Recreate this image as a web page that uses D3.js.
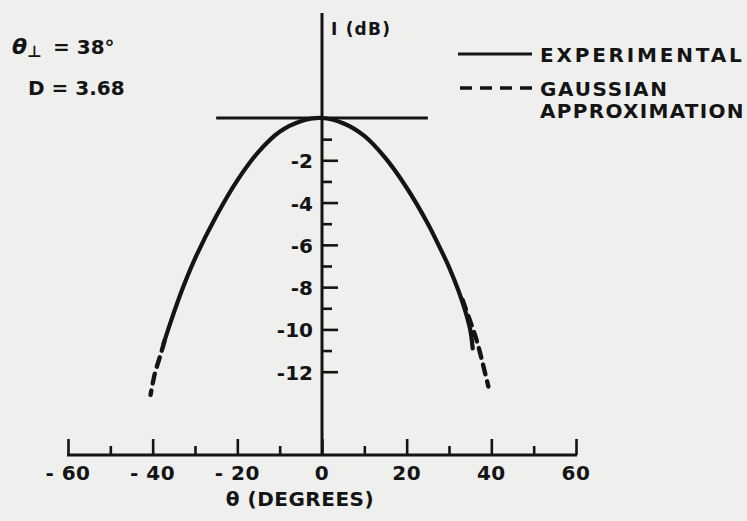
<!DOCTYPE html>
<html>
<head>
<meta charset="utf-8">
<script src="https://cdn.jsdelivr.net/npm/d3@7"></script>
<style>
  html, body { margin: 0; padding: 0; background: #efefed; }
  svg { display: block; }
  text { font-family: "DejaVu Sans", "Liberation Sans", sans-serif; font-weight: bold; fill: #141414; }
</style>
</head>
<body>
<div id="chart"></div>
<script>
// experimental curve (theta in degrees, I in dB)
const expTheta = [-37.4, -35.5, -33, -30, -25, -20, -15, -10, -5, 0, 5, 10, 15, 20, 25, 28, 30, 32.2, 33.8, 35, 35.6];
const expDb    = [-10.66, -9.5, -8.1, -6.65, -4.65, -2.95, -1.6, -0.65, -0.15, 0, -0.25, -0.85, -1.9, -3.3, -5.0, -6.2, -7.05, -8.15, -9.1, -10.0, -10.9];
// gaussian approximation, only the visible tails
const gaussLeftTheta  = [-37.2, -38.3, -39.5, -40.5];
const gaussLeftDb     = [-10.55, -11.3, -12.1, -13.1];
const gaussRightTheta = [33.2, 34.8, 36.2, 37.2, 38.2, 39.3];
const gaussRightDb    = [-8.6, -9.5, -10.3, -11.0, -11.8, -12.7];

const xMajor = [-60, -40, -20, 0, 20, 40, 60];
const xMinor = [-50, -30, -10, 10, 30, 50];
const xTickLabels = ["- 60", "- 40", "- 20", "0", "20", "40", "60"];
const yMajor = [-2, -4, -6, -8, -10, -12];
const yMinor = [-1, -3, -5, -7, -9, -11];
const yTickLabels = ["-2", "-4", "-6", "-8", "-10", "-12"];

const width = 747, height = 521;
const ink = "#141414";

const svg = d3.select("#chart").append("svg")
    .attr("width", width).attr("height", height);

const x = d3.scaleLinear().domain([-60, 60]).range([68, 576]);
const y = d3.scaleLinear().domain([0, -12]).range([118, 371.7]);
const baseY = 455;

// x axis: ticks pointing up from the baseline
const gx = svg.append("g").attr("transform", `translate(0,${baseY})`);
gx.append("g").call(d3.axisTop(x).tickValues(xMajor).tickSize(16).tickFormat(""));
gx.append("g").call(d3.axisTop(x).tickValues(xMinor).tickSize(9).tickFormat(""));
gx.selectAll(".domain").remove();
gx.selectAll(".tick line").attr("stroke", ink).attr("stroke-width", 2.6);
gx.append("line").attr("x1", x(-60) - 1).attr("x2", x(60) + 1)
    .attr("stroke", ink).attr("stroke-width", 2.8);
gx.selectAll(".xlab").data(xMajor).enter().append("text")
    .attr("x", d => x(d)).attr("y", 25)
    .attr("text-anchor", "middle")
    .style("font-size", "20px").style("letter-spacing", "0.5px")
    .text((d, i) => xTickLabels[i]);

svg.append("text")
    .attr("x", 300).attr("y", 506)
    .attr("text-anchor", "middle")
    .style("font-size", "20px").style("letter-spacing", "0.5px")
    .text("θ (DEGREES)");

// y axis
const gy = svg.append("g").attr("transform", `translate(${x(0)},0)`);
gy.append("g").call(d3.axisRight(y).tickValues(yMajor).tickSize(16).tickFormat(""));
gy.append("g").call(d3.axisRight(y).tickValues(yMinor).tickSize(10).tickFormat(""));
gy.selectAll(".domain").remove();
gy.selectAll(".tick line").attr("stroke", ink).attr("stroke-width", 2.6);
gy.append("line").attr("y1", 13).attr("y2", baseY)
    .attr("stroke", ink).attr("stroke-width", 3);
gy.selectAll(".ylab").data(yMajor).enter().append("text")
    .attr("x", -9).attr("y", d => y(d) + 8)
    .attr("text-anchor", "end")
    .style("font-size", "20px")
    .text((d, i) => yTickLabels[i]);

svg.append("text")
    .attr("x", 331).attr("y", 35)
    .style("font-size", "17px").style("letter-spacing", "1.2px")
    .text("I (dB)");

// 0 dB reference line
svg.append("line")
    .attr("x1", x(-25)).attr("x2", x(25))
    .attr("y1", y(0)).attr("y2", y(0))
    .attr("stroke", ink).attr("stroke-width", 2.8);

// curves
const line = d3.line().x(d => x(d[0])).y(d => y(d[1])).curve(d3.curveCatmullRom.alpha(0.5));

svg.append("path").datum(expTheta.map((t, i) => [t, expDb[i]]))
    .attr("d", line)
    .attr("fill", "none").attr("stroke", ink).attr("stroke-width", 4.2)
    .attr("stroke-linecap", "round");

[[gaussLeftTheta, gaussLeftDb], [gaussRightTheta, gaussRightDb]].forEach(([t, v]) => {
  svg.append("path").datum(t.map((d, i) => [d, v[i]]))
      .attr("d", line)
      .attr("fill", "none").attr("stroke", ink).attr("stroke-width", 4.4)
      .attr("stroke-dasharray", "10 7").attr("stroke-linecap", "round");
});

// parameters
const par = svg.append("g");
const th = par.append("text").attr("x", 12).attr("y", 54).style("font-size", "22px");
th.append("tspan").style("font-style", "italic").text("θ");
th.append("tspan").attr("dy", 3).style("font-size", "16px").text("⊥");
th.append("tspan").attr("x", 53).attr("y", 54).style("font-size", "20px").text("= 38°");
par.append("text").attr("x", 28).attr("y", 95)
    .style("font-size", "20px")
    .text("D = 3.68");

// legend
const leg = svg.append("g");
leg.append("line").attr("x1", 458).attr("x2", 532).attr("y1", 54).attr("y2", 54)
    .attr("stroke", ink).attr("stroke-width", 3);
leg.append("line").attr("x1", 460).attr("x2", 532).attr("y1", 88).attr("y2", 88)
    .attr("stroke", ink).attr("stroke-width", 3.4).attr("stroke-dasharray", "12 8");
leg.append("text").attr("x", 540).attr("y", 62)
    .style("font-size", "20px").style("letter-spacing", "2.8px").text("EXPERIMENTAL");
leg.append("text").attr("x", 540).attr("y", 96)
    .style("font-size", "20px").style("letter-spacing", "1.7px").text("GAUSSIAN");
leg.append("text").attr("x", 540).attr("y", 118)
    .style("font-size", "20px").style("letter-spacing", "1.3px").text("APPROXIMATION");
</script>
</body>
</html>
